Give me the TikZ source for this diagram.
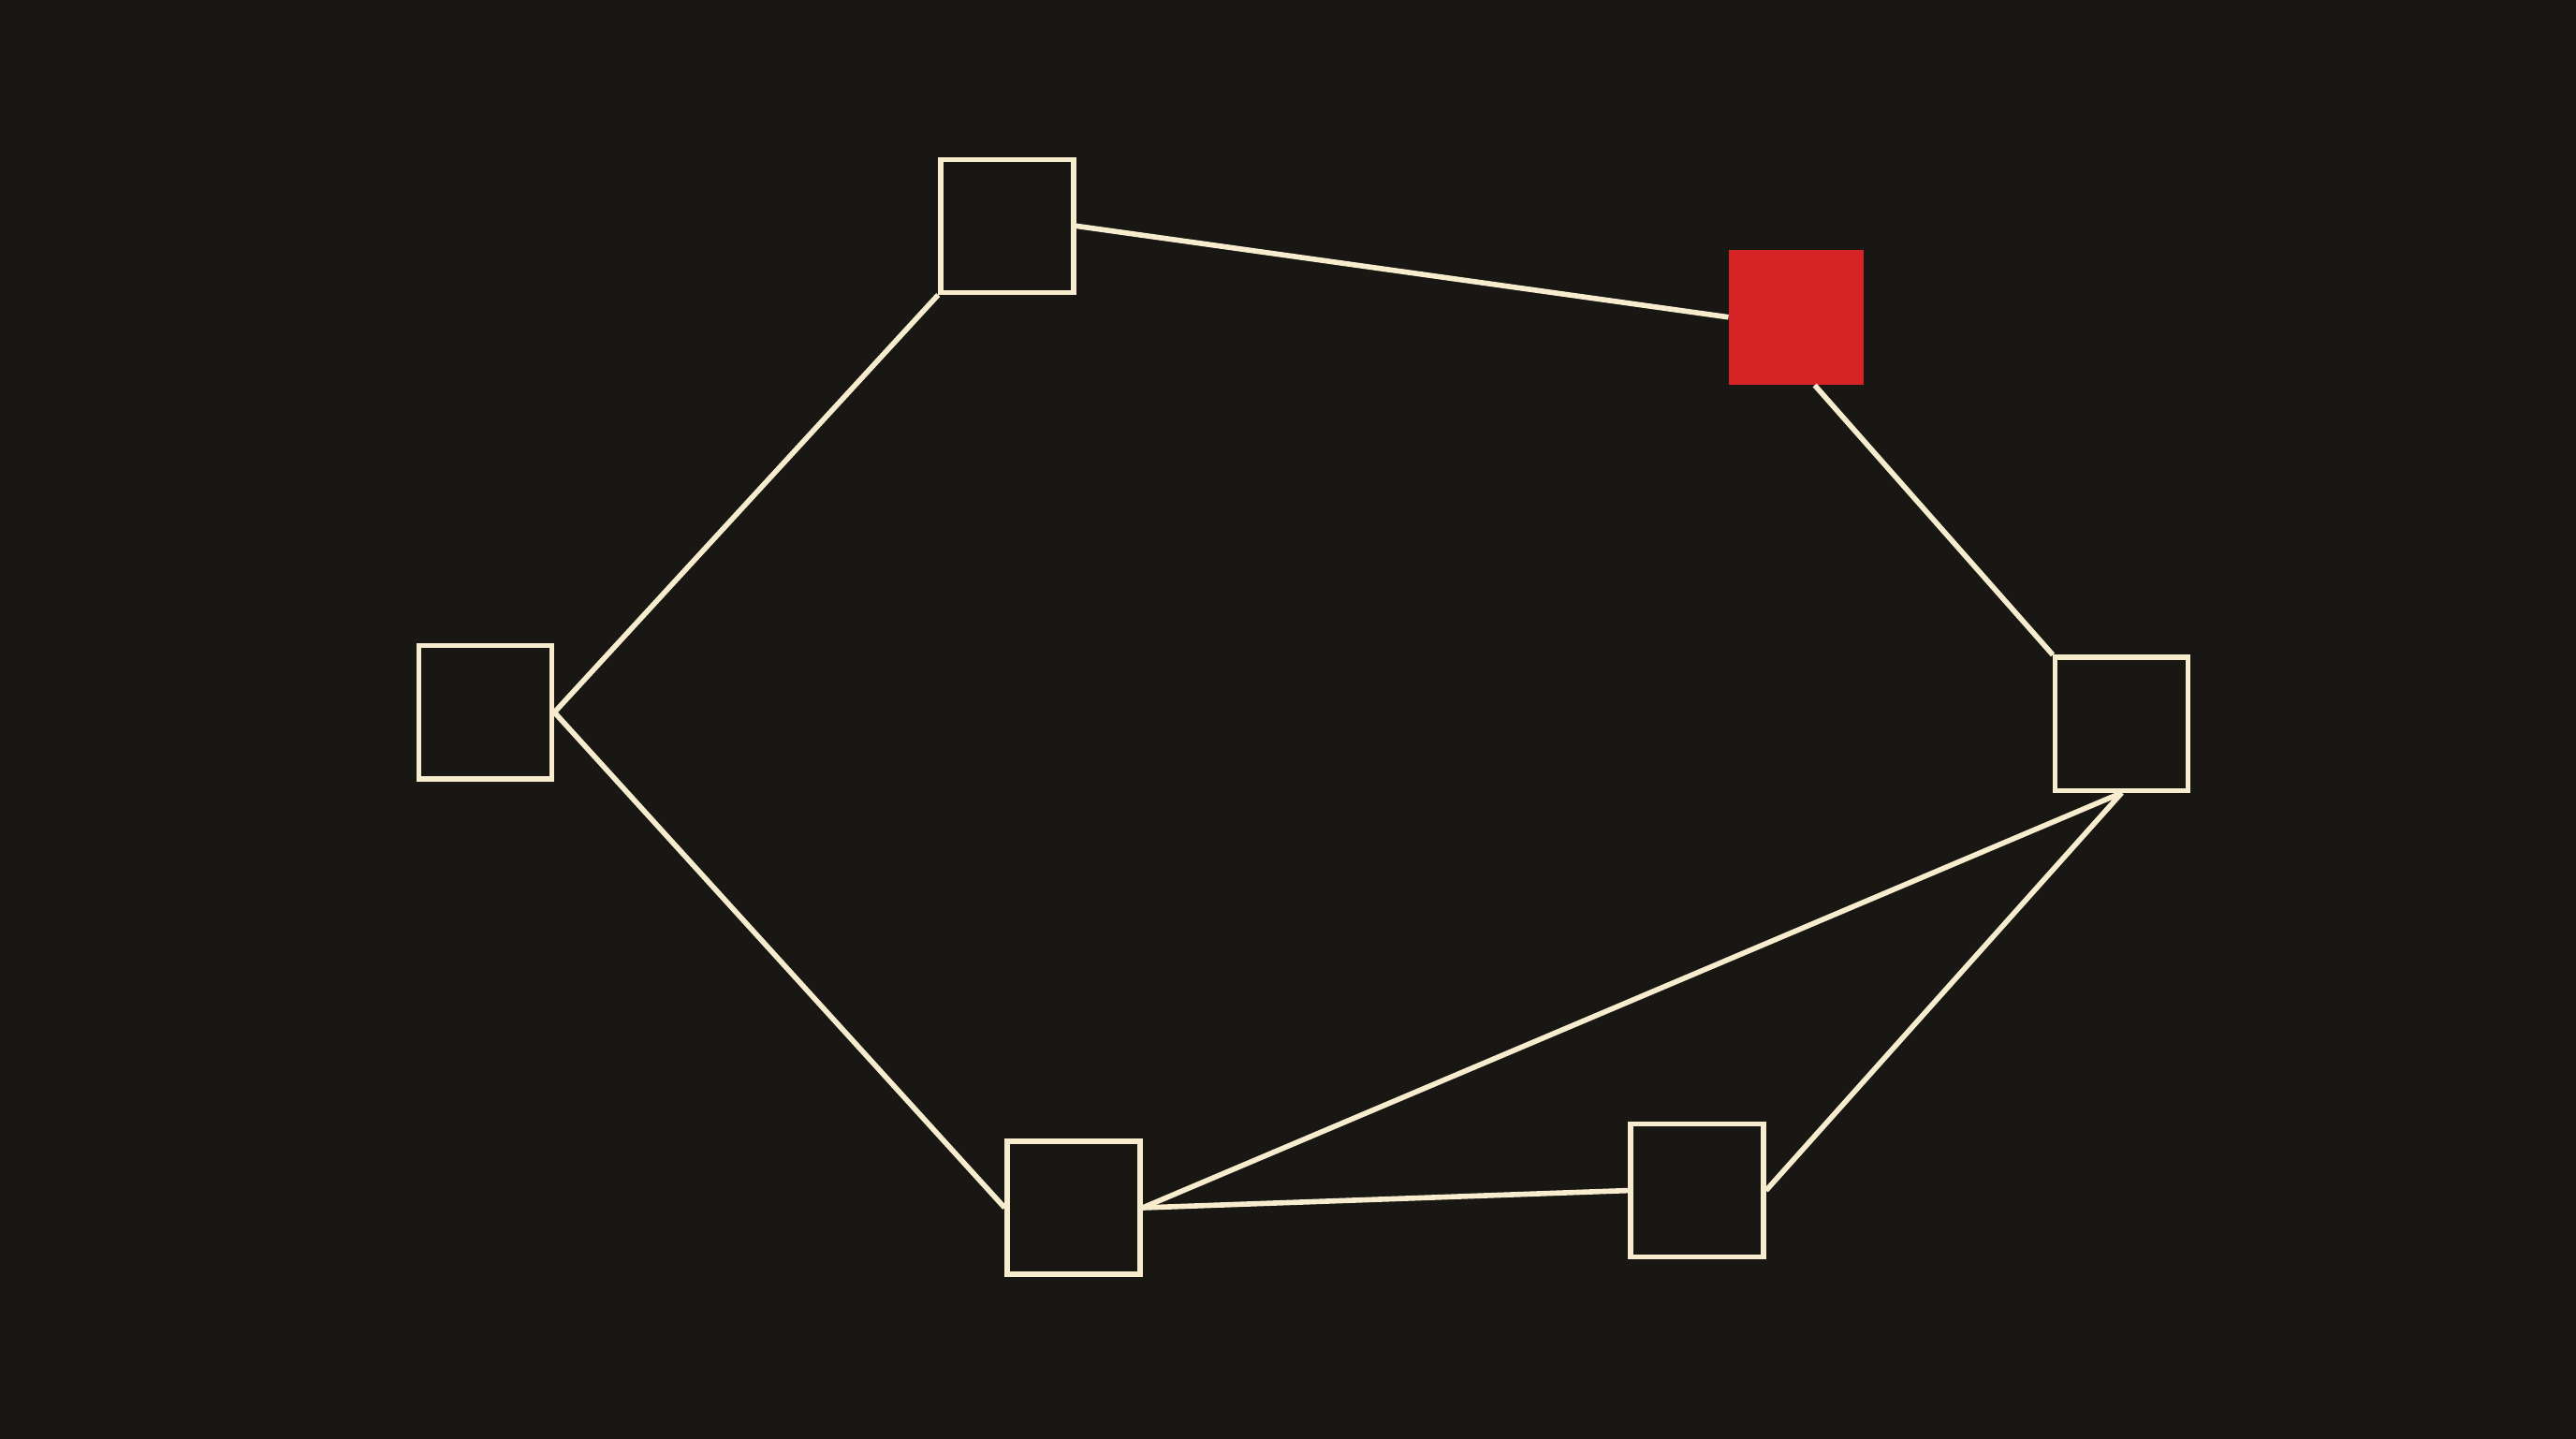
\documentclass[tikz,border=0pt]{standalone}

\begin{document}
\begin{tikzpicture}[x=0.01755cm,y=-0.01755cm]
    \definecolor{ring_bg}{RGB}{24,23,20}
    \definecolor{ring_line}{RGB}{247,236,205}
    \definecolor{ring_red}{RGB}{214,36,38}
    \tikzset{
        ringbox/.style={shape=rectangle,draw=ring_line,line width=1.5pt,fill=ring_bg,minimum size=1.42cm,inner sep=0pt},
        ringred/.style={shape=rectangle,fill=ring_red,minimum size=1.44cm,inner sep=0pt},
        ringlink/.style={draw=ring_line,line width=1.6pt}
    }
    \useasboundingbox (0,0) rectangle (1568,875.2);
    \fill[ring_bg] (-10,-10) rectangle (1578,885);
    % the six squares
    \node[ringbox] (top)   at (613,137.5)  {};
    \node[ringred] (red)   at (1093.5,193) {};
    \node[ringbox] (left)  at (295.5,433.5) {};
    \node[ringbox] (right) at (1291.5,440.5) {};
    \node[ringbox] (botl)  at (653.5,735)  {};
    \node[ringbox] (botr)  at (1033,724.5) {};
    % links
    \draw[ringlink] (top.east) -- (red.west);
    \draw[ringlink] (top.south west) -- (left.east);
    \draw[ringlink] (left.east) -- (botl.west);
    \draw[ringlink] (red.-75) -- (right.north west);
    \draw[ringlink] (right.south) -- (botl.east);
    \draw[ringlink] (right.south) -- (botr.east);
    \draw[ringlink] (botl.east) -- (botr.west);
\end{tikzpicture}
\end{document}
